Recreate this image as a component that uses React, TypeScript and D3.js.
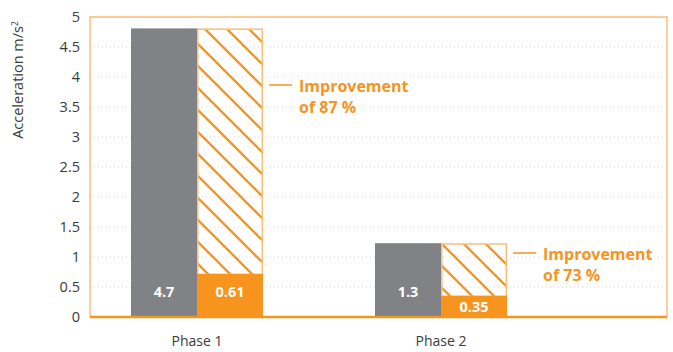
import React from "react";
import * as d3 from "d3";

const categories = ["Phase 1", "Phase 2"];
const beforeValues = [4.81, 1.23];
const afterValues = [0.72, 0.355];
const beforeLabels = ["4.7", "1.3"];
const afterLabels = ["0.61", "0.35"];
const improvementLabels = ["of 87 %", "of 73 %"];
const yTicks = [0, 0.5, 1, 1.5, 2, 2.5, 3, 3.5, 4, 4.5, 5];

const GREY = "#808285";
const ORANGE = "#F7941D";
const LIGHT_ORANGE = "#FBBF78";
const TEXT = "#3a3a3a";
const FONT = "'Open Sans', sans-serif";

export default function App() {
  const width = 673;
  const height = 352;
  const left = 90, right = 667, top = 17, bottom = 317;
  const y = d3.scaleLinear().domain([0, 5]).range([bottom, top]);
  const x = d3.scaleBand<string>().domain(categories).range([75, 563]).paddingInner(0).paddingOuter(0);
  const barW = 66;

  return (
    <svg width={width} height={height} style={{ position: "absolute", left: 0, top: 0 }}>
      <defs>
        <pattern id="hatch" patternUnits="userSpaceOnUse" width="22" height="22">
          <path d="M-11,-11 L33,33 M-11,11 L11,33 M11,-11 L33,11" stroke={ORANGE} strokeWidth="2.3" />
        </pattern>
      </defs>
      <rect x={0} y={0} width={width} height={height} fill="#fff" />
      {yTicks.slice(1).map((t) => (
        <line key={"g" + t} x1={left} x2={right} y1={y(t)} y2={y(t)} stroke="#d4d4d4" strokeWidth={1} strokeDasharray="1,3" />
      ))}
      <path d={`M${left},${bottom} V${top} H${right} V${bottom}`} fill="none" stroke={LIGHT_ORANGE} strokeWidth={1.5} />
      {yTicks.map((t) => (
        <text key={"t" + t} x={80} y={y(t)} dy="0.35em" textAnchor="end" fontFamily={FONT} fontSize={14.5} fill={TEXT}>
          {String(t)}
        </text>
      ))}
      <text transform={`translate(23,80) rotate(-90)`} textAnchor="middle" fontFamily={FONT} fontSize={14.5} fill={TEXT}>
        Acceleration m/s<tspan dy="-5" fontSize={8.5}>2</tspan>
      </text>
      {categories.map((c, i) => {
        const cx = (x(c) as number) + x.bandwidth() / 2;
        const gx = cx - barW;
        const ox = cx;
        const ay = i === 0 ? 85 : 253;
        const lx = ox + barW + 6;
        return (
          <g key={c}>
            <rect x={gx} y={y(beforeValues[i])} width={barW} height={bottom - y(beforeValues[i])} fill={GREY} />
            <rect x={ox + 0.75} y={y(beforeValues[i]) + 0.75} width={barW - 1.5} height={y(afterValues[i]) - y(beforeValues[i])} fill="url(#hatch)" stroke={LIGHT_ORANGE} strokeWidth={1.5} />
            <rect x={ox} y={y(afterValues[i])} width={barW} height={bottom - y(afterValues[i])} fill={ORANGE} />
            <text x={gx + barW / 2} y={292} dy="0.35em" textAnchor="middle" fontFamily={FONT} fontWeight="bold" fontSize={14.5} fill="#fff">
              {beforeLabels[i]}
            </text>
            <text x={ox + barW / 2} y={i === 0 ? 292 : (y(afterValues[i]) + bottom) / 2 + 1} dy="0.35em" textAnchor="middle" fontFamily={FONT} fontWeight="bold" fontSize={14.5} fill="#fff">
              {afterLabels[i]}
            </text>
            <text x={cx} y={341} dy="0.35em" textAnchor="middle" fontFamily={FONT} fontSize={14} fill={TEXT}>
              {c}
            </text>
            <line x1={lx} x2={lx + 23} y1={ay} y2={ay} stroke={ORANGE} strokeWidth={1.5} />
            <text x={lx + 30} y={ay + 6.5} fontFamily={FONT} fontWeight="bold" fontSize={16} fill={ORANGE}>
              Improvement
            </text>
            <text x={lx + 30} y={ay + 28} fontFamily={FONT} fontWeight="bold" fontSize={16} fill={ORANGE}>
              {improvementLabels[i]}
            </text>
          </g>
        );
      })}
      <line x1={left} x2={right} y1={bottom} y2={bottom} stroke={ORANGE} strokeWidth={2.5} />
    </svg>
  );
}
